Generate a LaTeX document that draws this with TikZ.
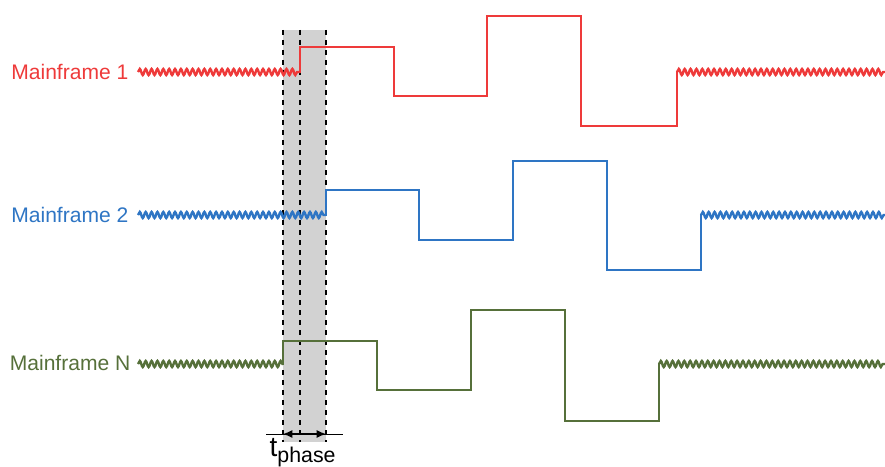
\documentclass[tikz,border=0pt]{standalone}
\usepackage{fontspec}
\setmainfont{Liberation Sans}
\usetikzlibrary{decorations.pathmorphing,arrows.meta}
\definecolor{mfred}{RGB}{238,58,58}
\definecolor{mfblue}{RGB}{46,117,196}
\definecolor{mfgreen}{RGB}{86,112,58}

\begin{document}
\begin{tikzpicture}[x=0.75pt,y=-0.75pt,font=\fontsize{15.8}{19}\selectfont,>={Latex[length=7pt,width=6pt]}]
    \tikzset{lab/.style={anchor=east,inner sep=1pt},
             sig/.style={line width=1.8pt,line join=miter},
             wav/.style={sig,decorate,decoration={snake,segment length=4.4pt,amplitude=2.3pt}},
             dsh/.style={line width=1.3pt,dash pattern=on 3.5pt off 4pt}}
    \useasboundingbox (0,0) rectangle (885,467);
    \fill[gray!35] (283,30) rectangle (326,442);
    \foreach \x in {283,300,326} \draw[dsh] (\x,30) -- (\x,442);
    % labels
    \node[lab,text=mfred] (m1) at (130,72) {Mainframe 1};
    \node[lab,text=mfblue] (m2) at (130,215) {Mainframe 2};
    \node[lab,text=mfgreen] (mn) at (132,363) {Mainframe N};
    % signals
    \draw[wav,mfred] (138,72) -- (300,72);
    \draw[sig,mfred] (300,73) -- (300,47) -- (394,47) -- (394,96) -- (487,96) -- (487,16) -- (581,16) -- (581,126) -- (677,126) -- (677,71);
    \draw[wav,mfred] (677,72) -- (885,72);
    \draw[wav,mfblue] (138,215) -- (326,215);
    \draw[sig,mfblue] (326,216) -- (326,190) -- (419,190) -- (419,240) -- (513,240) -- (513,161) -- (607,161) -- (607,270) -- (701,270) -- (701,214);
    \draw[wav,mfblue] (701,215) -- (885,215);
    \draw[wav,mfgreen] (138,364) -- (283,364);
    \draw[sig,mfgreen] (283,365) -- (283,341) -- (377,341) -- (377,390) -- (471,390) -- (471,310) -- (565,310) -- (565,421) -- (659,421) -- (659,363);
    \draw[wav,mfgreen] (659,364) -- (885,364);
    % phase
    \coordinate (pa) at (283,434);
    \coordinate (pb) at (326,434);
    \draw[thin] (266,434) -- (343,434);
    \draw[<->,line width=1pt] (pa) -- (pb);
    \node (tp) at (303,453) {\fontsize{21}{22}\selectfont t\textsubscript{\fontsize{16}{18}\selectfont phase}};
\end{tikzpicture}
\end{document}
